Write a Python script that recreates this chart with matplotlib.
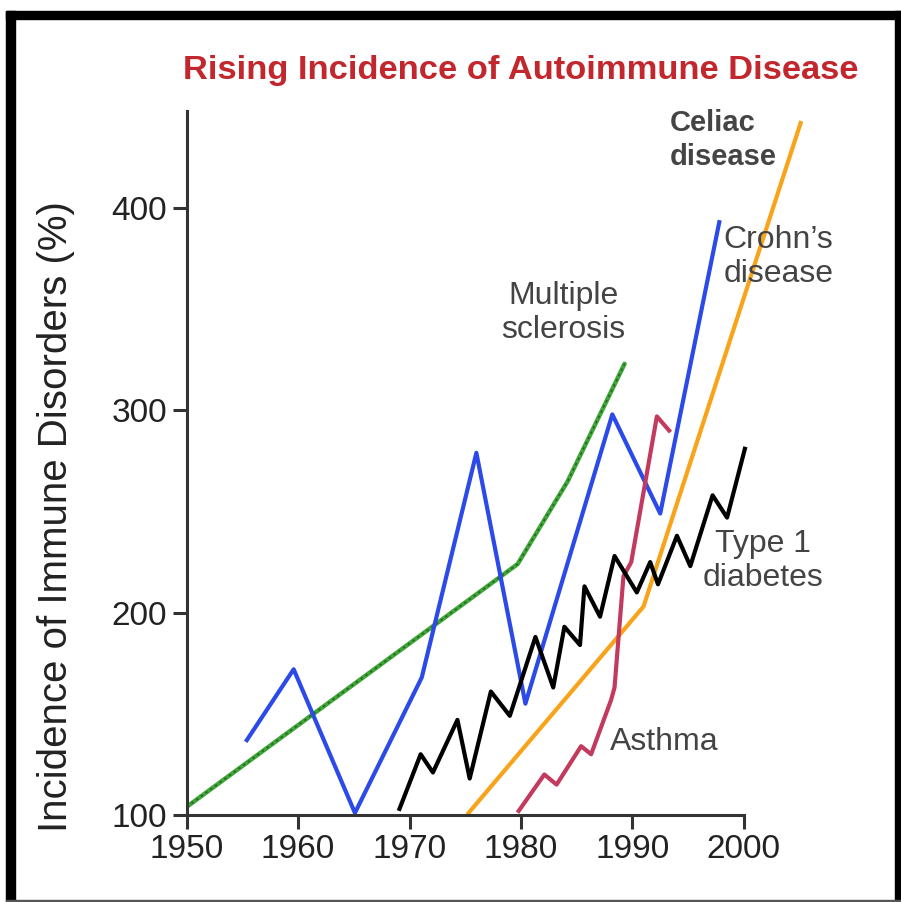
import matplotlib.pyplot as plt
from matplotlib.patches import Rectangle

plt.rcParams['font.family'] = ['Liberation Sans', 'DejaVu Sans']

# Crohn's disease
crohn_yr = [1955.4, 1959.6, 1965.1, 1971.1, 1976.0, 1980.4, 1988.2, 1992.5, 1997.8]
crohn_val = [137, 172, 101, 168, 279, 155, 298, 249, 393]

# Multiple sclerosis
ms_yr = [1950.0, 1979.7, 1984.2, 1989.3]
ms_val = [104, 224, 265, 323]

# Type 1 diabetes
t1d_yr = [1969.1, 1971.0, 1972.1, 1974.3, 1975.4, 1977.3, 1979.0, 1981.3, 1982.9,
          1983.9, 1985.3, 1985.7, 1987.1, 1988.4, 1990.4, 1991.6, 1992.3, 1994.0,
          1995.2, 1997.2, 1998.5, 2000.1]
t1d_val = [103, 130, 121, 147, 118, 161, 149, 188, 163,
           193, 184, 213, 198, 228, 210, 225, 214, 238,
           223, 258, 247, 281]

# Celiac disease
celiac_yr = [1975.3, 1991.0, 2005.1]
celiac_val = [101, 203, 442]

# Asthma
asthma_yr = [1979.8, 1982.1, 1983.2, 1985.4, 1986.3, 1988.1, 1988.4, 1989.2, 1989.9, 1992.2, 1993.3]
asthma_val = [102, 120, 115, 134, 130, 157, 163, 218, 225, 297, 290]

xticks = [1950, 1960, 1970, 1980, 1990, 2000]
yticks = [100, 200, 300, 400]

fig = plt.figure(figsize=(9.01, 9.02), dpi=100)
ax = fig.add_axes([0.2072, 0.0965, 0.6925, 0.785])

ax.plot(ms_yr, ms_val, color='#3fa638', lw=3.2, solid_capstyle='round')
ax.plot(ms_yr, ms_val, color='#1d4f1a', lw=1.2, ls=(0, (1.5, 2.0)), alpha=0.75)
ax.plot(crohn_yr, crohn_val, color='#2b4ae8', lw=3.0)
ax.plot(celiac_yr, celiac_val, color='#f8a31a', lw=3.0)
ax.plot(asthma_yr, asthma_val, color='#c23a5e', lw=3.0)
ax.plot(t1d_yr, t1d_val, color='black', lw=3.0)

ax.set_xlim(1950, 2006)
ax.set_ylim(100, 450)
ax.set_xticks(xticks)
ax.set_yticks(yticks)
ax.spines['top'].set_visible(False)
ax.spines['right'].set_visible(False)
ax.spines['bottom'].set_bounds(1950, 2000)
ax.spines['left'].set_bounds(100, 448)
for s in ('left', 'bottom'):
    ax.spines[s].set_linewidth(2.2)
    ax.spines[s].set_color('#333333')
ax.tick_params(width=2.2, length=10, color='#333333', labelsize=24,
               labelcolor='#222222', pad=4)

fig.text(0.062, 0.4268, 'Incidence of Immune Disorders (%)', rotation=90,
         ha='center', va='center', fontsize=29, color='#222222')

txt = dict(fontsize=23, color='#444444', linespacing=1.18)
ax.text(1993.4, 433.7, 'Celiac\ndisease', ha='left', va='center',
        fontweight='bold', fontsize=21, color='#444444', linespacing=1.3)
ax.text(1998.2, 376, 'Crohn\u2019s\ndisease', ha='left', va='center', **txt)
ax.text(1983.8, 348, 'Multiple\nsclerosis', ha='center', va='center', **txt)
ax.text(2001.7, 225.6, 'Type 1\ndiabetes', ha='center', va='center', **txt)
ax.text(1988.0, 136, 'Asthma', ha='left', va='center', **txt)

fig.text(0.578, 0.922, 'Rising Incidence of Autoimmune Disease', ha='center',
         va='center', fontsize=24.8, fontweight='bold', color='#c1272d')

# frame around the picture
fig.patches.append(Rectangle((6 / 901, 1 - 19 / 902), 895 / 901, 8 / 902,
                             transform=fig.transFigure, color='black'))
fig.patches.append(Rectangle((6 / 901, 0), 9 / 901, 1 - 11 / 902,
                             transform=fig.transFigure, color='black'))
fig.patches.append(Rectangle((895 / 901, 0), 6 / 901, 1 - 11 / 902,
                             transform=fig.transFigure, color='black'))
fig.patches.append(Rectangle((6 / 901, 0), 895 / 901, 2.5 / 902,
                             transform=fig.transFigure, color='#555555'))

fig.savefig('out.png', dpi=100)
